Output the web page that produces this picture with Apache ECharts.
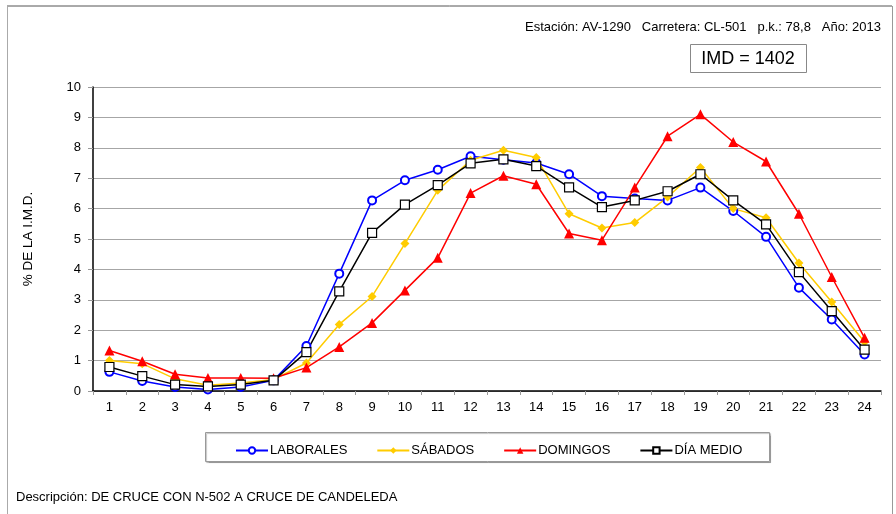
<!DOCTYPE html>
<html>
<head>
<meta charset="utf-8">
<script src="https://cdn.jsdelivr.net/npm/echarts@6/dist/echarts.min.js"></script>
<style>html,body{margin:0;padding:0;background:#fff;}#c{width:896px;height:514px;}</style>
</head>
<body>
<div id="c"></div>
<script>
var hours = ['1','2','3','4','5','6','7','8','9','10','11','12','13','14','15','16','17','18','19','20','21','22','23','24'];
var laborales = [0.63,0.33,0.13,0.05,0.13,0.35,1.48,3.86,6.27,6.93,7.28,7.72,7.61,7.50,7.13,6.41,6.33,6.27,6.69,5.92,5.07,3.40,2.35,1.20];
var sabados   = [1.00,0.90,0.40,0.19,0.26,0.38,0.92,2.19,3.11,4.85,6.60,7.59,7.92,7.68,5.83,5.36,5.54,6.38,7.35,6.00,5.70,4.21,2.93,1.61];
var domingos  = [1.33,0.98,0.55,0.43,0.43,0.42,0.77,1.45,2.24,3.31,4.38,6.51,7.08,6.80,5.18,4.96,6.69,8.38,9.10,8.19,7.55,5.83,3.75,1.75];
var diaMedio  = [0.79,0.49,0.21,0.15,0.21,0.35,1.28,3.28,5.20,6.13,6.77,7.49,7.62,7.40,6.70,6.05,6.27,6.57,7.13,6.27,5.48,3.91,2.63,1.36];
var yTicks = [0,1,2,3,4,5,6,7,8,9,10];

var chart = echarts.init(document.getElementById('c'), null, {renderer:'canvas'});
var FONT = 'Liberation Sans, Arial, sans-serif';
chart.setOption({
  animation: false,
  backgroundColor: '#ffffff',
  textStyle: {fontFamily: FONT},
  grid: {left: 93, right: 15, top: 87, bottom: 123, containLabel: false},
  xAxis: {
    type: 'category', data: hours, boundaryGap: true,
    axisLine: {lineStyle: {color: '#000', width: 1.5}},
    axisTick: {show: true, length: 4, lineStyle: {color: '#999'}},
    axisLabel: {color: '#000', fontSize: 13, margin: 10, fontFamily: FONT},
    splitLine: {show: false}
  },
  yAxis: {
    type: 'value', min: 0, max: 10, interval: 1,
    name: '% DE LA I.M.D.', nameLocation: 'middle', nameGap: 58, nameRotate: 90,
    nameTextStyle: {color: '#000', fontSize: 13.5, fontFamily: FONT},
    axisLine: {show: true, lineStyle: {color: '#000', width: 1.5}},
    axisTick: {show: true, length: 5, lineStyle: {color: '#999'}},
    axisLabel: {color: '#000', fontSize: 13, margin: 12, fontFamily: FONT,
      formatter: function(v){ return yTicks.indexOf(v) >= 0 ? String(v) : ''; }},
    splitLine: {show: true, lineStyle: {color: '#a6a6a6', width: 1}}
  },
  legend: {
    left: 230, top: 439, itemGap: 29, itemWidth: 32, itemHeight: 8,
    textStyle: {color: '#000', fontSize: 13, fontFamily: FONT, padding: [0,0,0,-3]},
    data: ['LABORALES','SÁBADOS','DOMINGOS','DÍA MEDIO']
  },
  series: [
    {name: 'LABORALES', type: 'line', data: laborales, symbol: 'emptyCircle', symbolSize: 8,
     lineStyle: {color: '#0000ff', width: 1.5}, itemStyle: {color: '#0000ff', borderColor: '#0000ff', borderWidth: 1.2}},
    {name: 'SÁBADOS', type: 'line', data: sabados, symbol: 'diamond', symbolSize: 9,
     lineStyle: {color: '#ffcc00', width: 1.5}, itemStyle: {color: '#ffcc00'}},
    {name: 'DOMINGOS', type: 'line', data: domingos, symbol: 'triangle', symbolSize: 10,
     lineStyle: {color: '#ff0000', width: 1.5}, itemStyle: {color: '#ff0000'}},
    {name: 'DÍA MEDIO', type: 'line', data: diaMedio, symbol: 'rect', symbolSize: 9,
     lineStyle: {color: '#000000', width: 1.5}, itemStyle: {color: '#ffffff', borderColor: '#000000', borderWidth: 1.2}}
  ],
  graphic: [
    {type: 'line', shape: {x1: 7, y1: 6, x2: 892, y2: 6}, style: {stroke: '#555', lineWidth: 1}, silent: true},
    {type: 'line', shape: {x1: 7.5, y1: 6, x2: 7.5, y2: 514}, style: {stroke: '#aaa', lineWidth: 1}, silent: true},
    {type: 'line', shape: {x1: 892.5, y1: 6, x2: 892.5, y2: 514}, style: {stroke: '#999', lineWidth: 1}, silent: true},
    {type: 'text', right: 15, top: 21, style: {text: 'Estación: AV-1290   Carretera: CL-501   p.k.: 78,8   Año: 2013', fill: '#000', font: '13px ' + FONT}},
    {type: 'rect', shape: {x: 690.5, y: 44.5, width: 116, height: 28}, style: {fill: '#fff', stroke: '#888', lineWidth: 1}},
    {type: 'text', x: 748, y: 59, style: {text: 'IMD = 1402', fill: '#000', font: '18px ' + FONT, align: 'center', verticalAlign: 'middle'}},
    {type: 'rect', z: -1, shape: {x: 205.5, y: 432.5, width: 564, height: 29}, style: {fill: '#fff', stroke: '#999', lineWidth: 1, shadowColor: 'rgba(0,0,0,0.25)', shadowOffsetX: 1, shadowOffsetY: 1, shadowBlur: 1}},
    {type: 'text', x: 16, y: 491, style: {text: 'Descripción: DE CRUCE CON N-502 A CRUCE DE CANDELEDA', fill: '#000', font: '13px ' + FONT}}
  ]
});
</script>
</body>
</html>
